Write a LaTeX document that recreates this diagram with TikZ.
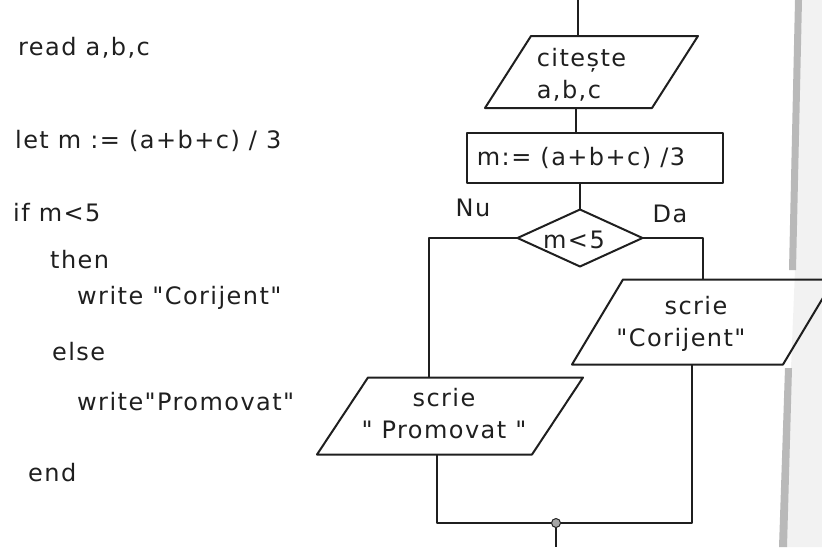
\documentclass[tikz,border=0pt]{standalone}
\usepackage{fontspec}
\setmainfont{DejaVu Sans}[LetterSpace=6, Ligatures=TeXOff]
\usetikzlibrary{shapes.geometric}
\newcommand\pgram[2]{\draw[ink] ([xshift=#2]#1.north west) -- (#1.north east)
  -- ([xshift=-#2]#1.south east) -- (#1.south west) -- cycle;}
\begin{document}
\begin{tikzpicture}[x=1pt,y=-1pt,
  ink/.style={draw=black!88, line width=2pt, line join=round},
  fc/.style={text=black!88, font=\fontsize{24}{32}\selectfont},
  shp/.style={inner sep=0pt, outer sep=0pt},
  code/.style={fc, anchor=base west, inner sep=0pt},
  lbl/.style={fc, inner sep=0pt},
]
\useasboundingbox (0,0) rectangle (822,547);
% scanned page edge
\fill[gray!10] (802,0) -- (822,0) -- (822,547) -- (786,547) -- (791,368) -- (795,270) -- cycle;
\fill[gray!55] (795,0) -- (802,0) -- (796,270) -- (789,270) -- cycle;
\fill[gray!55] (785,368) -- (792,368) -- (787,547) -- (779,547) -- cycle;

% pseudocode
\node[code] (r1) at (18,55) {read a,b,c};
\node[code] (r2) at (15,148) {let m := (a+b+c) / 3};
\node[code] (r3) at (13,221) {if m<5};
\node[code] (r4) at (50,268) {then};
\node[code] (r5) at (77,304) {write "Corijent"};
\node[code] (r6) at (52,360) {else};
\node[code] (r7) at (77,410) {write"Promovat"};
\node[code] (r8) at (28,481) {end};

% flowchart shapes
\node[shp, minimum width=213pt, minimum height=72pt,
      label={[name=inT, lbl, align=left, xshift=-10pt, yshift=-3pt]center:{citește\\a,b,c}}]
      (in) at (591.5,72) {};
\pgram{in}{46pt}
\node[shp, ink, rectangle, minimum width=256pt, minimum height=50pt,
      label={[name=calcT, lbl, xshift=-14pt]center:{m:= (a+b+c) /3}}]
      (calc) at (595,158) {};
\node[shp, ink, diamond, minimum width=125pt, minimum height=57pt,
      label={[name=decT, lbl, xshift=-6pt, yshift=-2pt]center:{m<5}}]
      (dec) at (580,238) {};
\node[shp, minimum width=262pt, minimum height=85pt,
      label={[name=corT, lbl, align=center, xshift=-22pt, yshift=-2pt]center:{\hspace*{30pt}scrie\\"Corijent"}}]
      (cor) at (703,322) {};
\pgram{cor}{51pt}
\node[shp, minimum width=266pt, minimum height=77pt,
      label={[name=proT, lbl, align=center, xshift=-6pt, yshift=2pt]center:{scrie\\" Promovat "}}]
      (pro) at (450,416) {};
\pgram{pro}{51pt}

\node[lbl] (nu) at (473,208) {Nu};
\node[lbl] (da) at (670,214) {Da};

% connectors
\coordinate (t0) at (578,0);
\coordinate (cx) at (576,0);
\coordinate (lx) at (429,0);
\coordinate (rx) at (703,0);
\coordinate (px) at (437,0);
\coordinate (qx) at (692,0);
\coordinate (join) at (556,523);
\coordinate (b0) at (556,547);

\draw[ink] (t0) -- (t0 |- in.north);
\draw[ink] (cx |- in.south) -- (cx |- calc.north);
\draw[ink] (calc.south -| dec.north) -- (dec.north);
\draw[ink] (dec.west) -| (lx |- pro.north);
\draw[ink] (dec.east) -| (rx |- cor.north);
\draw[ink] (px |- pro.south) |- (join) -| (qx |- cor.south);
\draw[ink] (join) -- (b0);
\filldraw[fill=gray!70, draw=black!85, line width=1pt] (join) circle (4.5);
\end{tikzpicture}
\end{document}
